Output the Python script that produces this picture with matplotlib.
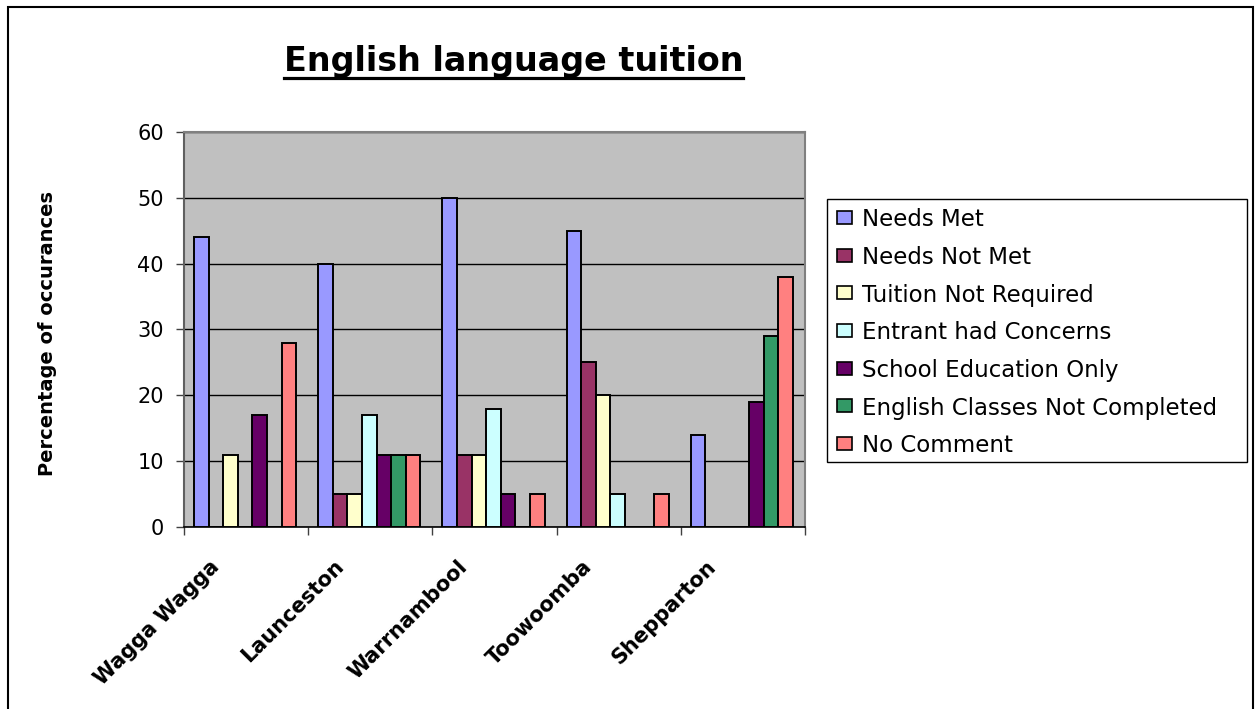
import numpy as np
import matplotlib
matplotlib.use("Agg")
import matplotlib.pyplot as plt
from matplotlib.patches import Rectangle
from matplotlib.lines import Line2D
from matplotlib import transforms

# ---- data -------------------------------------------------------------
towns = ["Wagga Wagga", "Launceston", "Warrnambool", "Toowoomba", "Shepparton"]
series_names = [
    "Needs Met",
    "Needs Not Met",
    "Tuition Not Required",
    "Entrant had Concerns",
    "School Education Only",
    "English Classes Not Completed",
    "No Comment",
]
needs_met = [44, 40, 50, 45, 14]
needs_not_met = [0, 5, 11, 25, 0]
tuition_not_required = [11, 5, 11, 20, 0]
entrant_concerns = [0, 17, 18, 5, 0]
school_only = [17, 11, 5, 0, 19]
classes_not_completed = [0, 11, 0, 0, 29]
no_comment = [28, 11, 5, 5, 38]
y_ticks = [0, 10, 20, 30, 40, 50, 60]

series_values = [needs_met, needs_not_met, tuition_not_required,
                 entrant_concerns, school_only, classes_not_completed, no_comment]
colors = ["#9999FF", "#993366", "#FFFFCC", "#CCFFFF", "#660066", "#339966", "#FF8080"]

# ---- figure -----------------------------------------------------------
W, H = 1257, 709
fig = plt.figure(figsize=(W / 100, H / 100), dpi=100)
fig.patch.set_facecolor("white")
plt.rcParams["font.family"] = ["DejaVu Sans"]

def fx(px):
    return px / W

def fy(py):
    return 1 - py / H

# outer chart border
fig.add_artist(Rectangle((fx(8), -0.05), fx(1253 - 8), fy(7) + 0.05,
                         transform=fig.transFigure, fill=False,
                         edgecolor="black", linewidth=1.5, clip_on=False))

top, bottom, left, right = 131.7, 527.3, 184, 805
ax = fig.add_axes([fx(left), fy(bottom), fx(right - left), (bottom - top) / H])
ax.set_facecolor("#C0C0C0")

n_series = len(series_names)
bar_w = 0.1175
centers = np.arange(len(towns)) + 0.5
offsets = (np.arange(n_series) - (n_series - 1) / 2) * bar_w - 0.008

for k in range(n_series):
    ax.bar(centers + offsets[k], series_values[k], width=bar_w,
           color=colors[k], edgecolor="black", linewidth=1.4, zorder=3)

ax.set_xlim(0, len(towns))
ax.set_ylim(0, 60)
ax.set_yticks(y_ticks)
ax.set_yticklabels([str(v) for v in y_ticks], fontsize=15)
ax.set_xticks(np.arange(len(towns) + 1))
ax.set_xticklabels([])
ax.tick_params(axis="y", direction="out", length=6, width=1, color="#404040", pad=8.6)
ax.tick_params(axis="x", direction="out", length=6, width=1, color="#404040")

ax.yaxis.grid(True, color="black", linewidth=1.0)
ax.set_axisbelow(True)
for side in ("top", "right"):
    ax.spines[side].set_color("#808080")
    ax.spines[side].set_linewidth(1.5)
ax.spines["left"].set_color("#606060")
ax.spines["left"].set_linewidth(1.5)
ax.spines["bottom"].set_color("black")
ax.spines["bottom"].set_linewidth(1.2)

# rotated category labels
lab_tr = transforms.blended_transform_factory(ax.transData, ax.transAxes) + \
    transforms.ScaledTranslation(-30 / 100, -36 / 100, fig.dpi_scale_trans)
for c, name in zip(centers, towns):
    ax.text(c, 0, name, transform=lab_tr, rotation=45, rotation_mode="anchor",
            ha="right", va="center", fontsize=15, fontweight="bold")

# axis title
fig.text(fx(48), fy(334), "Percentage of occurances", rotation=90,
         ha="center", va="center", fontsize=14, fontweight="bold")

# chart title with underline
title = fig.text(fx(513.5), fy(70.5), "English language tuition", ha="center",
                 va="baseline", fontsize=24, fontweight="bold")
fig.canvas.draw()
bb = title.get_window_extent()
fig.add_artist(Line2D([bb.x0 / W, bb.x1 / W], [fy(78), fy(78)],
                      transform=fig.transFigure, color="black", linewidth=2.3))

# legend
fig.add_artist(Rectangle((fx(827.3), fy(462.3)), fx(1247.3 - 827.3), (462.3 - 199) / H,
                         transform=fig.transFigure, fill=False,
                         edgecolor="black", linewidth=1.0))
row0, row_step = 217.3, 37.7
for k, name in enumerate(series_names):
    yc = row0 + k * row_step
    fig.add_artist(Rectangle((fx(837), fy(yc + 6.5)), fx(15), 13 / H,
                             transform=fig.transFigure, facecolor=colors[k],
                             edgecolor="black", linewidth=1.2))
    fig.text(fx(862), fy(yc), name, ha="left", va="center_baseline", fontsize=16.5)

fig.savefig("out.png", dpi=100, facecolor="white")
